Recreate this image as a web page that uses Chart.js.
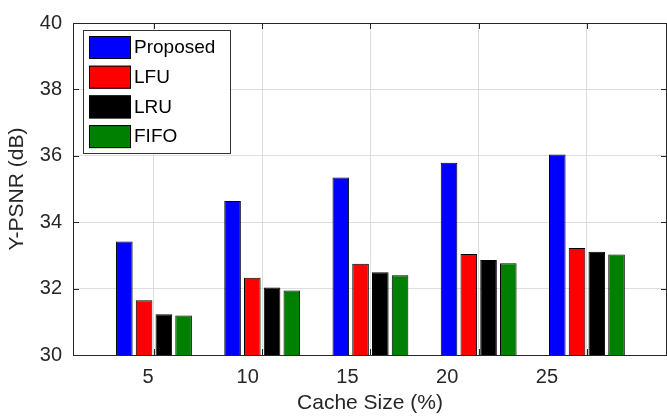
<!DOCTYPE html>
<html lang="en">
<head>
<meta charset="UTF-8">
<title>Y-PSNR vs Cache Size</title>
<style>
  body { margin: 0; background: #fff; }
  #chart { display: block; }
</style>
</head>
<body>
<canvas id="chart" width="667" height="418"></canvas>
<script src="https://cdn.jsdelivr.net/npm/chart.js"></script>
<script>
// values
const cacheSizes = [5, 10, 15, 20, 25];
const tickLabels = ['5', '10', '15', '20', '25'];
const proposed = [33.42, 34.64, 35.35, 35.79, 36.04];
const lfu = [31.65, 32.33, 32.75, 33.04, 33.22];
const lru = [31.23, 32.03, 32.49, 32.86, 33.11];
const fifo = [31.19, 31.94, 32.40, 32.76, 33.03];
const seriesNames = ['Proposed', 'LFU', 'LRU', 'FIFO'];
const seriesColors = ['#0000ff', '#ff0000', '#000000', '#008000'];

const FONT = "'Liberation Sans', Arial, Helvetica, sans-serif";
const TEXT = '#262626';
const GRID = '#dedede';

const toPoints = vals => vals.map((v, i) => ({ x: cacheSizes[i], y: v }));
const fixedTicks = s => { s.ticks = cacheSizes.map(v => ({ value: v })); };

// box on top/right plus inward tick marks, like a MATLAB axes
const framePlugin = {
    id: 'frame',
    afterDatasetsDraw(chart) {
        const { ctx, chartArea: a, scales } = chart;
        const len = 6;
        ctx.save();
        ctx.strokeStyle = TEXT;
        ctx.lineWidth = 1;
        ctx.beginPath();
        ctx.moveTo(a.left, a.top + 0.5);
        ctx.lineTo(a.right, a.top + 0.5);
        ctx.moveTo(a.right - 0.5, a.top);
        ctx.lineTo(a.right - 0.5, a.bottom);
        scales.y.ticks.forEach(t => {
            const y = Math.round(scales.y.getPixelForValue(t.value)) + 0.5;
            ctx.moveTo(a.left, y); ctx.lineTo(a.left + len, y);
            ctx.moveTo(a.right, y); ctx.lineTo(a.right - len, y);
        });
        scales.x.ticks.forEach(t => {
            const x = Math.round(scales.x.getPixelForValue(t.value)) + 0.5;
            ctx.moveTo(x, a.bottom); ctx.lineTo(x, a.bottom - len);
            ctx.moveTo(x, a.top); ctx.lineTo(x, a.top + len);
        });
        ctx.stroke();
        ctx.restore();
    },
    afterDraw(chart) {
        // legend inside the axes, top left
        const { ctx, chartArea: a } = chart;
        const bx = a.left + 10, by = a.top + 7, bw = 147, bh = 123;
        ctx.save();
        ctx.fillStyle = '#fff';
        ctx.fillRect(bx, by, bw, bh);
        ctx.strokeStyle = '#333';
        ctx.lineWidth = 1;
        ctx.strokeRect(bx + 0.5, by + 0.5, bw, bh);
        ctx.font = '19px ' + FONT;
        ctx.textBaseline = 'middle';
        chart.data.datasets.forEach((ds, i) => {
            const sy = by + 6 + i * 29.7;
            ctx.fillStyle = ds.backgroundColor;
            ctx.fillRect(bx + 6, sy, 42, 23);
            ctx.strokeStyle = '#000';
            ctx.strokeRect(bx + 6.5, sy + 0.5, 41, 22);
            ctx.fillStyle = '#000';
            ctx.fillText(ds.label, bx + 51, sy + 12);
        });
        ctx.restore();
    }
};

new Chart(document.getElementById('chart'), {
    type: 'bar',
    data: {
        datasets: [proposed, lfu, lru, fifo].map((vals, i) => ({
            label: seriesNames[i],
            data: toPoints(vals),
            backgroundColor: seriesColors[i],
            borderColor: '#000',
            borderWidth: 1,
            categoryPercentage: 0.73,
            barPercentage: 0.84
        }))
    },
    options: {
        responsive: false,
        animation: false,
        layout: { padding: { top: 17, right: 0, left: 0, bottom: 0 } },
        plugins: { legend: { display: false }, tooltip: { enabled: false } },
        scales: {
            x: {
                type: 'linear',
                position: 'bottom',
                offset: false,
                min: 1.26,
                max: 28.70,
                weight: 0,
                afterBuildTicks: fixedTicks,
                afterFit: s => { s.height = 0; },
                ticks: { display: false },
                grid: { color: GRID, drawTicks: false, offset: false },
                border: { color: TEXT, width: 1 }
            },
            xl: {
                type: 'linear',
                position: 'bottom',
                offset: false,
                min: 1.24,
                max: 31.02,
                weight: 1,
                afterBuildTicks: fixedTicks,
                afterFit: s => { s.height = 63; },
                grid: { display: false, drawTicks: false, offset: false },
                border: { display: false },
                ticks: {
                    autoSkip: false,
                    maxRotation: 0,
                    padding: 10,
                    color: TEXT,
                    font: { family: FONT, size: 20 },
                    callback: v => tickLabels[cacheSizes.indexOf(v)]
                },
                title: {
                    display: true,
                    text: 'Cache Size (%)',
                    color: TEXT,
                    font: { family: FONT, size: 21 },
                    padding: { top: 0, bottom: 2 }
                }
            },
            y: {
                min: 30,
                max: 40,
                afterFit: s => { s.width = 73; },
                ticks: {
                    stepSize: 2,
                    padding: 11,
                    color: TEXT,
                    font: { family: FONT, size: 20 }
                },
                grid: { color: GRID, drawTicks: false },
                border: { color: TEXT, width: 1 },
                title: {
                    display: true,
                    text: 'Y-PSNR (dB)',
                    color: TEXT,
                    font: { family: FONT, size: 21 },
                    padding: { top: 5, bottom: 0 }
                }
            }
        }
    },
    plugins: [framePlugin]
});
</script>
</body>
</html>
